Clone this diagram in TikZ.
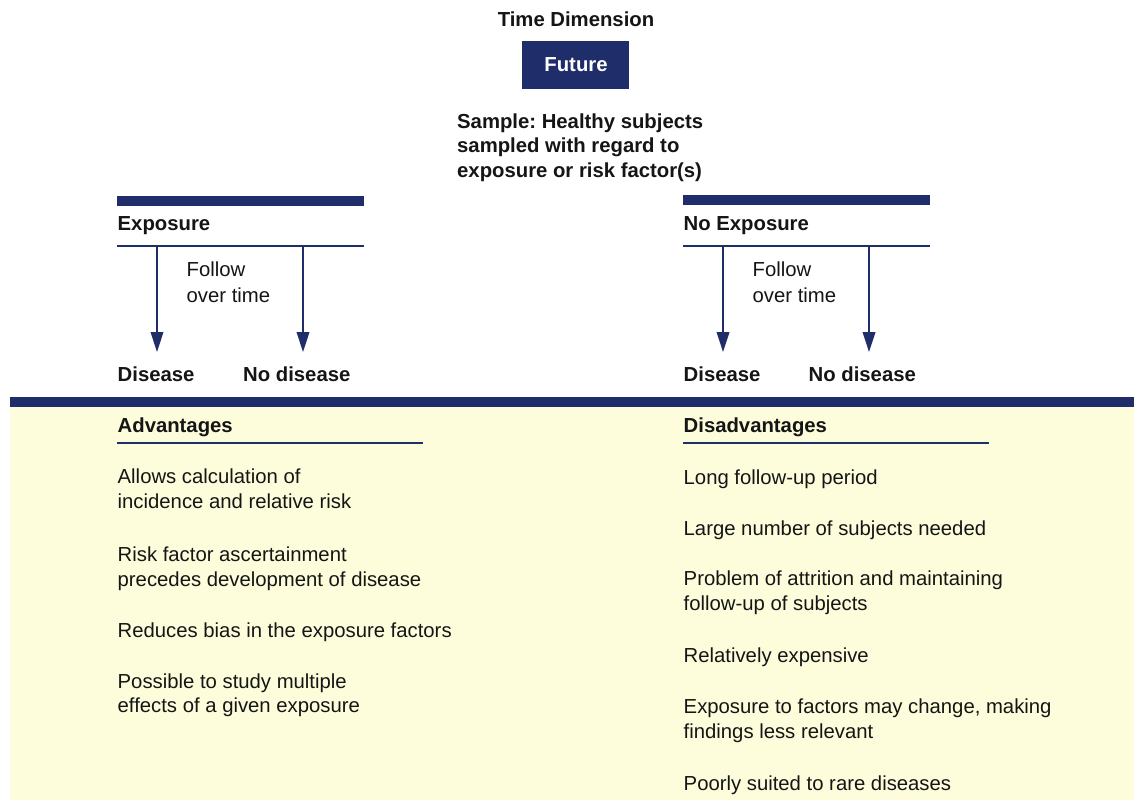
\documentclass[tikz,border=0pt]{standalone}
\usepackage{fontspec}
\setmainfont{Liberation Sans}
\usetikzlibrary{arrows.meta}
\definecolor{navy}{HTML}{202D6B}
\definecolor{panel}{HTML}{FDFDDC}
\definecolor{ink}{HTML}{151515}
\frenchspacing
\begin{document}
\begin{tikzpicture}[x=1pt,y=-1pt,
  txt/.style={anchor=base west,inner sep=0pt,text=ink,font=\fontsize{20.3}{24}\selectfont},
  btxt/.style={txt,font=\fontsize{20.3}{24}\selectfont\bfseries},
  thickbar/.style={fill=navy,draw=none},
  rule/.style={draw=navy,line width=2pt},
  flow/.style={draw=navy,line width=2.2pt,-{Triangle[length=20pt,width=12.5pt]}}]
\useasboundingbox (0,0) rectangle (1134,800);
\fill[white] (0,0) rectangle (1134,800);

% lower panel and its top bar
\fill[panel] (10,406) rectangle (1134,800);
\fill[thickbar] (10,397) rectangle (1134,407);

% header
\node[btxt,anchor=base] (time) at (576,26.5) {Time Dimension};
\node[fill=navy,minimum width=107pt,minimum height=48pt,inner sep=0pt] (future) at (575.5,65) {};
\node[btxt,anchor=base,text=white] (futuretxt) at (576,71.5) {Future};
\node[btxt] (s1) at (457,128) {Sample: Healthy subjects};
\node[btxt] (s2) at (457,152.5) {sampled with regard to};
\node[btxt] (s3) at (457,177) {exposure or risk factor(s)};

% exposure group
\fill[thickbar] (117,196) rectangle (364,206);
\node[btxt] (expo) at (117.5,230) {Exposure};
\coordinate (eL) at (117,245.5);
\coordinate (eR) at (364,245.5);
\draw[rule] (eL) -- (eR);
\coordinate (ea1) at (157,245.5);
\coordinate (eb1) at (157,352);
\coordinate (ea2) at (303,245.5);
\coordinate (eb2) at (303,352);
\draw[flow] (ea1) -- (eb1);
\draw[flow] (ea2) -- (eb2);
\node[txt] (ef1) at (186.5,276.5) {Follow};
\node[txt] (ef2) at (186.5,302) {over time};
\node[btxt] (ed) at (117.5,381) {Disease};
\node[btxt] (end) at (243,381) {No disease};

% no exposure group
\fill[thickbar] (683,195) rectangle (930,205);
\node[btxt] (nexpo) at (683.5,230.5) {No Exposure};
\coordinate (nL) at (683,245.5);
\coordinate (nR) at (930,245.5);
\draw[rule] (nL) -- (nR);
\coordinate (na1) at (723,245.5);
\coordinate (nb1) at (723,352);
\coordinate (na2) at (869,245.5);
\coordinate (nb2) at (869,352);
\draw[flow] (na1) -- (nb1);
\draw[flow] (na2) -- (nb2);
\node[txt] (nf1) at (752.5,276.5) {Follow};
\node[txt] (nf2) at (752.5,302) {over time};
\node[btxt] (nd) at (683.5,381) {Disease};
\node[btxt] (nnd) at (808.5,381) {No disease};

% advantages
\node[btxt] (adv) at (117.5,432.5) {Advantages};
\draw[rule] (117,442.5) -- (423,442.5);
\node[txt] (a1a) at (117.5,483.5) {Allows calculation of};
\node[txt] (a1b) at (117.5,508.5) {incidence and relative risk};
\node[txt] (a2a) at (117.5,561) {Risk factor ascertainment};
\node[txt] (a2b) at (117.5,586) {precedes development of disease};
\node[txt] (a3) at (117.5,637) {Reduces bias in the exposure factors};
\node[txt] (a4a) at (117.5,688) {Possible to study multiple};
\node[txt] (a4b) at (117.5,712.5) {effects of a given exposure};

% disadvantages
\node[btxt] (dis) at (683.5,432.5) {Disadvantages};
\draw[rule] (683,442.5) -- (989,442.5);
\node[txt] (d1) at (683.5,484) {Long follow-up period};
\node[txt] (d2) at (683.5,535) {Large number of subjects needed};
\node[txt] (d3a) at (683.5,585.5) {Problem of attrition and maintaining};
\node[txt] (d3b) at (683.5,610.5) {follow-up of subjects};
\node[txt] (d4) at (683.5,662) {Relatively expensive};
\node[txt] (d5a) at (683.5,713) {Exposure to factors may change, making};
\node[txt] (d5b) at (683.5,738) {findings less relevant};
\node[txt] (d6) at (683.5,790) {Poorly suited to rare diseases};
\end{tikzpicture}
\end{document}
